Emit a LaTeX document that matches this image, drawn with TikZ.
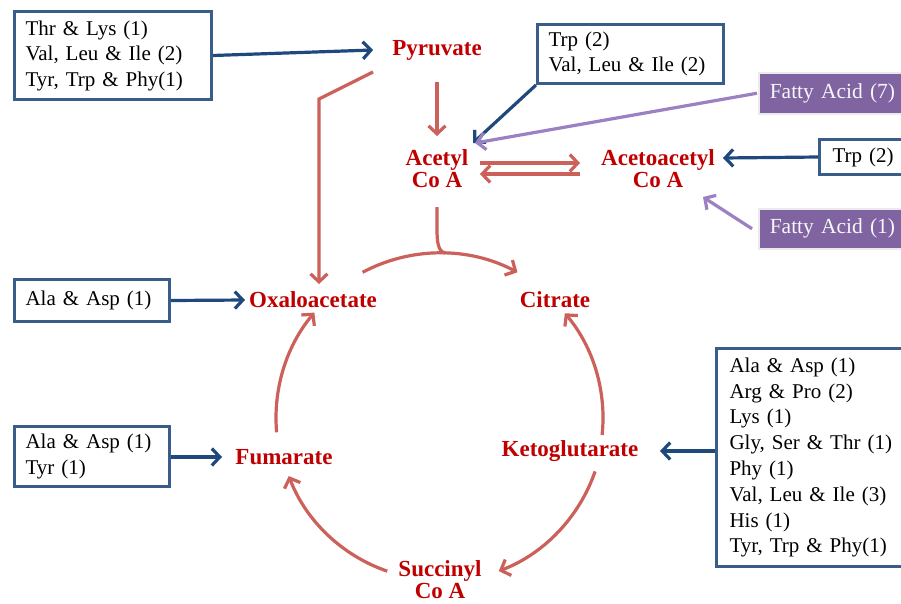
\documentclass[tikz,border=0pt]{standalone}
\usepackage{fontspec}
\setmainfont{Liberation Serif}
\usetikzlibrary{arrows.meta,shadows}
\definecolor{nred}{RGB}{192,0,0}
\definecolor{flow}{RGB}{204,96,90}
\definecolor{navy}{RGB}{31,73,125}
\definecolor{bbord}{RGB}{56,93,138}
\definecolor{pfill}{RGB}{128,100,162}
\definecolor{parrow}{RGB}{155,128,195}
\tikzset{
  metab/.style={text=nred, font=\bfseries\fontsize{23}{22}\selectfont, inner sep=0pt, align=center},
  bbox/.style={draw=bbord, line width=3pt, fill=white, align=left, inner xsep=11pt, inner ysep=3pt,
    font=\fontsize{21}{25.5}\selectfont, anchor=north west,
    drop shadow={opacity=0.25, shadow xshift=1.5pt, shadow yshift=-1.5pt}},
  fabox/.style={fill=pfill, draw=white!92!black, line width=1.5pt, text=white!94!pfill, align=left,
    inner xsep=11pt, font=\fontsize{21.5}{25.5}\selectfont, anchor=north west,
    drop shadow={opacity=0.3, shadow xshift=1.5pt, shadow yshift=-1.5pt}},
  tip/.style={-{Straight Barb[length=8pt,width=17pt]}},
  narrow/.style={draw=navy, line width=3.2pt, tip},
  parr/.style={draw=parrow, line width=3.2pt, tip},
  rflow/.style={draw=flow, line width=3.2pt, tip},
  rline/.style={draw=flow, line width=3.2pt},
}
\begin{document}
\begin{tikzpicture}[x=1pt,y=1pt]
\useasboundingbox (0,0) rectangle (901,-603);
\fill[white] (0,0) rectangle (901,-603);

% metabolites
\node[metab] (pyr) at (437,-50) {Pyruvate};
\node[metab] (acetyl) at (437,-169) {Acetyl\\Co A};
\node[metab] (acac) at (658,-169) {Acetoacetyl\\Co A};
\node[metab] (oxa) at (313,-300) {Oxaloacetate};
\node[metab] (cit) at (555,-300) {Citrate};
\node[metab] (fum) at (284,-457) {Fumarate};
\node[metab] (keto) at (570,-451) {Ketoglutarate};
\node[metab] (succ) at (440,-580) {Succinyl\\Co A};

% boxes
\node[bbox, text width=175pt, minimum height=88pt] (b1) at (13,-10)
  {Thr \& Lys (1)\\Val, Leu \& Ile (2)\\Tyr, Trp \& Phy(1)};
\node[bbox, text width=164pt, minimum height=59pt] (b2) at (536,-23)
  {Trp (2)\\Val, Leu \& Ile (2)};
\node[fabox, text width=130pt, minimum height=41pt] (fa7) at (758,-72) {Fatty Acid (7)};
\node[bbox, text width=70pt, minimum height=35pt, inner xsep=13pt] (trp) at (818,-138) {Trp (2)};
\node[fabox, text width=130pt, minimum height=40pt] (fa1) at (758,-208) {Fatty Acid (1)};
\node[bbox, text width=133pt, minimum height=42pt] (ala1) at (13,-278) {Ala \& Asp (1)};
\node[bbox, text width=133pt, minimum height=60pt] (ala2) at (13,-425) {Ala \& Asp (1)\\Tyr (1)};
\node[bbox, text width=175pt, minimum height=218pt, inner xsep=13pt, font=\fontsize{21}{25.8}\selectfont] (big) at (715,-347)
  {Ala \& Asp (1)\\Arg \& Pro (2)\\Lys (1)\\Gly, Ser \& Thr (1)\\Phy (1)\\Val, Leu \& Ile (3)\\His (1)\\Tyr, Trp \& Phy(1)};

% navy and purple inputs
\draw[narrow] (b1.east) -- ([xshift=-19pt]pyr.west);
\draw[narrow] (b2.south west) -- ([shift={(36,26)}]acetyl.center);
\draw[parr] ([xshift=-1pt]fa7.west) -- ([shift={(38,26)}]acetyl.center);
\draw[narrow] (trp.west) -- ([shift={(65,11)}]acac.center);
\draw[parr] ([xshift=-6pt]fa1.west) -- ([shift={(45,-28)}]acac.center);
\draw[narrow] (ala1.east) -- ([xshift=-68pt]oxa.center);
\draw[narrow] (ala2.east |- fum.center) -- ([xshift=-62pt]fum.center);
\draw[narrow] (big.west |- keto.center) -- ([xshift=90pt]keto.center);

% red flows
\draw[rflow] ([yshift=-32pt]pyr.center) -- ([yshift=33pt]acetyl.center);
\coordinate (bend) at (319,-99);
\draw[rflow] ([shift={(-64,-22)}]pyr.center) -- (bend) -- ([shift={(6,16)}]oxa.center);
\draw[rflow] ([shift={(43,6)}]acetyl.center) -- ([shift={(-78,6)}]acac.center);
\draw[rflow] ([shift={(-78,-5)}]acac.center) -- ([shift={(43,-5)}]acetyl.center);

% cycle
\coordinate (cyc) at (440,-418);
\coordinate (join) at ([shift={(88:165pt)}]cyc);
\draw[rline] ([yshift=-38pt]acetyl.center) -- ++(0,-22) .. controls +(0,-12) and +(-8,1) .. (join);
\draw[rflow] ([shift={(118:165pt)}]cyc) arc[start angle=118, end angle=62, radius=165pt];
\draw[rflow] ([shift={(-6:163pt)}]cyc) arc[start angle=-6, end angle=40, radius=163pt];
\draw[rflow] ([shift={(-19:164pt)}]cyc) arc[start angle=-19, end angle=-69, radius=164pt];
\draw[rflow] ([shift={(251:162pt)}]cyc) arc[start angle=251, end angle=201, radius=162pt];
\draw[rflow] ([shift={(185:164pt)}]cyc) arc[start angle=185, end angle=140, radius=164pt];
\end{tikzpicture}
\end{document}
